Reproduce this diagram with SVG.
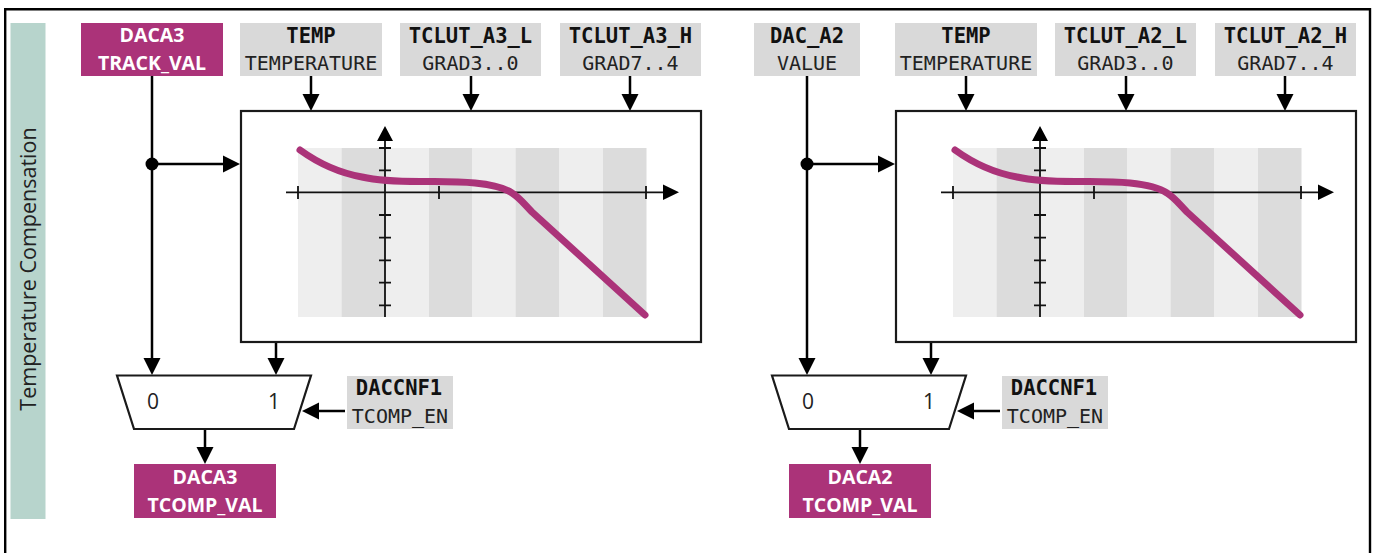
<svg xmlns="http://www.w3.org/2000/svg" xmlns:xlink="http://www.w3.org/1999/xlink" width="1374" height="553" viewBox="0 0 1374 553">
<style>
.gray{fill:#d9d9d9}
.pur{fill:#ab3379}
.pt{font:bold 19.500px "Open Sans",sans-serif;fill:#fff;text-anchor:middle}
.mb{font:bold 20.500px "DejaVu Sans Mono",monospace;fill:#111;text-anchor:middle}
.m{font:20px "DejaVu Sans Mono",monospace;fill:#222;text-anchor:middle}
.n{font:21px "Open Sans",sans-serif;fill:#222;text-anchor:middle}
.w{fill:#fff;stroke:#1a1a1a;stroke-width:2.200}
.ln{fill:none;stroke:#000;stroke-width:2.500}
.ax{fill:none;stroke:#111;stroke-width:1.800}
.h{fill:#000}
.l{fill:#eee}
.d{fill:#dcdcdc}
.cv{fill:none;stroke:#ab3379;stroke-width:7;stroke-linecap:round;stroke-linejoin:round}
</style>
<defs>
<g id="chart">
<rect class="l" x="298" y="148" width="43.500" height="169"/><rect class="d" x="341.500" y="148" width="43.500" height="169"/>
<rect class="l" x="385" y="148" width="44" height="169"/><rect class="d" x="429" y="148" width="43" height="169"/>
<rect class="l" x="472" y="148" width="43.500" height="169"/><rect class="d" x="515.500" y="148" width="43.500" height="169"/>
<rect class="l" x="559" y="148" width="44" height="169"/><rect class="d" x="603" y="148" width="43.500" height="169"/>
<path class="ax" d="M286 192.300H664M298 186V199M439 186V199M646 186V199M385 140V317M379 148H391M379 170.300H391M379 215H391M379 237.700H391M379 260.300H391M379 282.700H391M379 305.300H391"/>
<path class="h" d="M663 184.500L679 192.300L663 200ZM385 126L393 141H377Z"/>
<path class="cv" d="M300 150C318 163 340 173 362 177C375 180 395 181.500 420 181.500C440 181.500 457 181 475 183C490 184.500 503 187 512 193C520 198 525 205 532 212L645 315"/>
</g>
</defs>
<path id="frame" d="M5.200 553V9.200H1370V553" fill="none" stroke="#000" stroke-width="2.400"/>
<g id="band"><rect x="10.500" y="23" width="35" height="496" fill="#b7d4cc"/>
<text transform="translate(35.500 269) rotate(-90)" text-anchor="middle" style="font:21.500px 'Open Sans',sans-serif;fill:#222">Temperature Compensation</text></g>
<g id="connectors">
<path class="ln" d="M152 76V360M152 164H226M311 76V97M471 76V97M630 76V97M276 342V360M345 411H316M205 429V449"/>
<path class="ln" d="M807 76V360M807 164H881M966 76V97M1126 76V97M1285 76V97M931 342V360M1000 411H971M860 429V449"/>
<circle class="h" cx="152" cy="164" r="6.500"/><circle class="h" cx="807" cy="164" r="6.500"/>
<path class="h" d="M143.500 358L152 375L160.500 358ZM223 155.500L240 164L223 172.500ZM302.500 94L311 111L319.500 94ZM462.500 94L471 111L479.500 94ZM621.500 94L630 111L638.500 94ZM267.500 358L276 375L284.500 358ZM302 411L319 402.500V419.500ZM196.500 447L205 464L213.500 447Z"/>
<path class="h" d="M798.500 358L807 375L815.500 358ZM878 155.500L895 164L878 172.500ZM957.500 94L966 111L974.500 94ZM1117.500 94L1126 111L1134.500 94ZM1276.500 94L1285 111L1293.500 94ZM922.500 358L931 375L939.500 358ZM957 411L974 402.500V419.500ZM851.500 447L860 464L868.500 447Z"/>
</g>
<g id="daca3-track"><rect class="pur" x="81" y="23" width="142" height="53"/><text class="pt" x="152" y="42">DACA3</text><text class="pt" x="152" y="70">TRACK_VAL</text></g>
<g id="temp-a3"><rect class="gray" x="240" y="23" width="142" height="53"/><text class="mb" x="311" y="43">TEMP</text><text class="m" x="311" y="70">TEMPERATURE</text></g>
<g id="tclut-a3-l"><rect class="gray" x="400" y="23" width="141" height="53"/><text class="mb" x="470.500" y="43">TCLUT_A3_L</text><text class="m" x="470.500" y="70">GRAD3..0</text></g>
<g id="tclut-a3-h"><rect class="gray" x="560" y="23" width="141" height="53"/><text class="mb" x="630.500" y="43">TCLUT_A3_H</text><text class="m" x="630.500" y="70">GRAD7..4</text></g>
<g id="lut-a3"><rect class="w" x="241" y="111" width="460" height="231"/><use xlink:href="#chart" href="#chart"/></g>
<g id="mux-a3"><path class="w" d="M117 375.500H311L294 429H134Z"/><text class="n" x="153" y="409">0</text><text class="n" x="274" y="409">1</text></g>
<g id="daccnf-a3"><rect class="gray" x="347" y="376" width="106" height="53"/><text class="mb" x="399" y="395">DACCNF1</text><text class="m" x="400" y="423">TCOMP_EN</text></g>
<g id="daca3-tcomp"><rect class="pur" x="134" y="464" width="142" height="54"/><text class="pt" x="205" y="484">DACA3</text><text class="pt" x="205" y="512">TCOMP_VAL</text></g>
<g id="dac-a2"><rect class="gray" x="754" y="23" width="106" height="53"/><text class="mb" x="807" y="43">DAC_A2</text><text class="m" x="807" y="70">VALUE</text></g>
<g id="temp-a2"><rect class="gray" x="895" y="23" width="142" height="53"/><text class="mb" x="966" y="43">TEMP</text><text class="m" x="966" y="70">TEMPERATURE</text></g>
<g id="tclut-a2-l"><rect class="gray" x="1055" y="23" width="141" height="53"/><text class="mb" x="1125.500" y="43">TCLUT_A2_L</text><text class="m" x="1125.500" y="70">GRAD3..0</text></g>
<g id="tclut-a2-h"><rect class="gray" x="1215" y="23" width="141" height="53"/><text class="mb" x="1285.500" y="43">TCLUT_A2_H</text><text class="m" x="1285.500" y="70">GRAD7..4</text></g>
<g id="lut-a2"><rect class="w" x="896" y="111" width="460" height="231"/><use xlink:href="#chart" href="#chart" x="655"/></g>
<g id="mux-a2"><path class="w" d="M772 375.500H966L949 429H789Z"/><text class="n" x="808" y="409">0</text><text class="n" x="929" y="409">1</text></g>
<g id="daccnf-a2"><rect class="gray" x="1002" y="376" width="106" height="53"/><text class="mb" x="1054" y="395">DACCNF1</text><text class="m" x="1055" y="423">TCOMP_EN</text></g>
<g id="daca2-tcomp"><rect class="pur" x="789" y="464" width="142" height="54"/><text class="pt" x="860" y="484">DACA2</text><text class="pt" x="860" y="512">TCOMP_VAL</text></g>
</svg>
